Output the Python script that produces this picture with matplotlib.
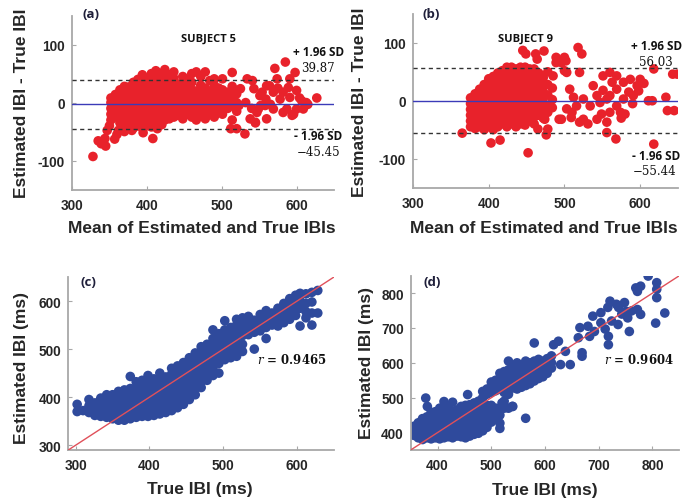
import matplotlib
matplotlib.use('Agg')
import matplotlib.pyplot as plt
import numpy as np

plt.rcParams['font.family'] = ['Liberation Sans', 'DejaVu Sans']
plt.rcParams['mathtext.fontset'] = 'dejavuserif'

# ---- (a) subject 5: Bland-Altman (mean of IBIs, difference) ----
# columns of points: (mean, [differences])
a_cols = [
    (352, [-30, -20, -10, 0, 8]),
    (358, [-25, -15, -5, 5, 14]),
    (364, [-35, -25, -15, -5, 5, 15, 22]),
    (370, [-40, -30, -20, -10, 0, 10, 20, 28]),
    (376, [-42, -32, -22, -12, -2, 8, 18, 27]),
    (382, [-44, -35, -25, -15, -5, 5, 15, 25, 35]),
    (388, [-40, -30, -20, -10, 0, 10, 20, 30, 40]),
    (394, [-44, -35, -25, -15, -5, 5, 15, 25, 35, 48]),
    (400, [-40, -30, -20, -10, 0, 10, 20, 30, 42]),
    (406, [-42, -32, -22, -12, -2, 8, 18, 28, 38, 50]),
    (412, [-38, -28, -18, -8, 2, 12, 22, 32, 45, 55]),
    (418, [-35, -25, -15, -5, 5, 15, 25, 38, 50]),
    (424, [-30, -20, -10, 0, 10, 20, 30, 42, 57]),
    (430, [-28, -18, -8, 2, 12, 22, 35, 48]),
    (436, [-25, -15, -5, 5, 15, 28, 42, 53]),
    (442, [-22, -12, -2, 8, 20, 32]),
    (448, [-28, -15, -5, 5, 18, 30, 45]),
    (454, [-20, -8, 2, 12, 25, 40]),
    (460, [-25, -10, 0, 10, 22, 35, 50]),
    (466, [-30, -15, -2, 8, 20, 53]),
    (472, [-20, -5, 5, 15, 30, 45]),
    (478, [-28, -12, 0, 10, 25, 53]),
    (484, [-20, -5, 8, 20, 38]),
    (490, [-25, -10, 2, 15, 30, 41]),
    (496, [-15, 0, 12, 25]),
    (501, [-20, -5, 10, 22, 41]),
    (508, [-10, 5, 18]),
    (514, [-30, -5, 10, 28, 52]),
    (520, [-15, 0, 15]),
]
a_extra = [(328, -93), (335, -66), (339, -71), (345, -75), (344, -62), (347, -48),
           (350, -40), (357, -63), (360, -55), (362, -48), (370, -50), (380, -48),
           (395, -52), (408, -62), (414, -45), (420, -38), (512, -45), (531, -54),
           (525, 24), (534, 41), (543, 24), (551, 12), (560, 29), (569, 18),
           (558, -5), (547, -17), (538, -28), (560, -28), (569, -11), (578, 6),
           (582, 18), (571, 59), (585, 70), (574, 41), (591, 41), (598, 52),
           (589, 26), (600, 21), (591, 9), (587, -11), (600, -11), (607, 3),
           (613, 0), (627, 8), (609, -11), (596, -20), (582, -17), (532, 0),
           (540, -10), (545, -35), (520, -45), (552, -5), (565, -3), (575, 25),
           (594, -22), (604, 8), (615, -3), (541, 38), (549, -11), (545, -34),
           (559, 6), (564, 29), (554, 18), (514, 18), (523, -5)]
a_upper, a_lower, a_bias = 39.87, -45.45, -2.79

# ---- (b) subject 9 ----
b_cols = [
    (376, [-45, -35, -25, -15, -5, 5]),
    (382, [-48, -38, -28, -18, -8, 2, 12]),
    (388, [-45, -35, -25, -15, -5, 5, 15, 20]),
    (394, [-50, -40, -30, -20, -10, 0, 10, 20, 28]),
    (400, [-45, -35, -25, -15, -5, 5, 15, 25, 38]),
    (406, [-50, -40, -30, -20, -10, 0, 10, 20, 30, 42]),
    (412, [-45, -35, -25, -15, -5, 5, 15, 25, 35, 48]),
    (418, [-40, -30, -20, -10, 0, 10, 20, 30, 40, 52]),
    (424, [-45, -35, -25, -15, -5, 5, 15, 25, 35, 45, 58]),
    (430, [-40, -30, -20, -10, 0, 10, 20, 30, 40, 50, 58]),
    (436, [-45, -35, -25, -15, -5, 5, 15, 25, 35, 45, 55]),
    (442, [-40, -30, -20, -10, 0, 10, 20, 30, 40, 50, 58]),
    (448, [-42, -32, -22, -12, -2, 8, 18, 28, 38, 48, 58]),
    (454, [-35, -25, -15, -5, 5, 15, 25, 35, 45, 55]),
    (460, [-40, -28, -18, -8, 2, 12, 22, 32, 42, 55]),
    (466, [-25, -15, -5, 5, 15, 25, 35, 48]),
    (472, [-30, -15, -5, 5, 15, 25, 40]),
    (478, [-20, -8, 10, 28, 50]),
    (484, [-12, 2, 22]),
]
b_extra = [(365, -56), (403, -73), (415, -68), (452, -90), (445, 87), (449, 81),
           (462, 81), (473, 86), (464, 72), (489, 75), (465, -49), (478, -49),
           (476, -59), (493, -32), (485, 43), (489, 66), (500, 75), (502, 69),
           (500, 52), (480, -9), (474, -32), (496, 66), (518, 92), (523, 81),
           (520, 49), (503, 49), (507, 20), (503, -14), (496, -32), (509, -29),
           (525, -32), (531, -40), (543, -32), (534, -9), (543, 9), (538, 26),
           (551, 43), (560, 49), (569, 43), (578, 32), (587, 37), (596, 26),
           (585, 15), (578, 3), (569, -9), (560, -20), (556, -37), (549, -23),
           (574, -20), (580, -23), (560, 9), (551, 18), (569, 20), (556, -55),
           (568, -66), (611, 0), (616, 0), (634, 6), (636, -17), (645, -17),
           (618, 55), (643, 46), (649, 46), (618, -75), (516, -9), (563, 32),
           (591, 9), (598, 17), (525, 3), (512, 6), (547, -3), (556, 3),
           (590, -5), (600, 37), (605, 30), (575, -30), (520, -37), (510, -20)]
b_upper, b_lower, b_bias = 56.03, -55.44, 0.30

# ---- (c) subject 5: true vs estimated IBI (ms) ----
c_cols = [
    (302, [370, 385]),
    (310, [372]),
    (318, [368, 382, 395]),
    (326, [362, 375, 388]),
    (334, [360, 372, 385, 398]),
    (342, [358, 370, 382, 395, 405]),
    (350, [355, 368, 380, 392, 405]),
    (358, [352, 365, 378, 390, 402, 412]),
    (366, [352, 365, 378, 390, 402, 415]),
    (374, [355, 368, 380, 392, 405, 418, 443]),
    (382, [358, 370, 382, 395, 408, 420, 432]),
    (390, [360, 372, 385, 398, 410, 422, 435]),
    (398, [360, 372, 385, 398, 410, 422, 435, 445]),
    (406, [362, 375, 388, 400, 412, 425, 438]),
    (414, [365, 378, 390, 402, 415, 428, 440, 450]),
    (422, [368, 380, 392, 405, 418, 430, 442]),
    (430, [372, 385, 398, 410, 422, 435, 448, 460]),
    (438, [378, 390, 402, 415, 428, 440, 452, 465]),
    (446, [385, 398, 410, 422, 435, 448, 460, 472]),
    (454, [395, 408, 420, 432, 445, 458, 470, 482]),
    (462, [405, 418, 430, 442, 455, 468, 480, 492]),
    (470, [420, 432, 445, 458, 470, 482, 495, 505]),
    (478, [435, 448, 460, 472, 485, 498, 510]),
    (486, [445, 458, 472, 485, 498, 510, 522, 540]),
    (494, [450, 470, 482, 495, 508, 520, 532]),
    (502, [478, 490, 502, 515, 528, 540, 559]),
    (510, [482, 492, 505, 518, 530, 545]),
    (518, [485, 498, 512, 525, 538, 550, 562]),
    (526, [495, 510, 528, 540, 552, 565]),
    (534, [530, 542, 555, 568]),
    (542, [500, 535, 548, 560]),
    (550, [538, 550, 562, 572]),
    (558, [522, 545, 558, 570, 580]),
    (566, [550, 562, 575]),
    (574, [548, 560, 572, 585]),
    (582, [555, 568, 580, 595]),
    (590, [562, 575, 588, 605]),
    (598, [570, 582, 595, 612]),
    (604, [548, 585, 600, 616]),
    (612, [565, 578, 595, 615]),
    (620, [550, 575, 598, 618]),
    (628, [575, 622]),
]
c_r = 0.9465

# ---- (d) subject 9 ----
d_cols = [
    (356, [392, 405, 418]),
    (364, [385, 400, 415, 428]),
    (372, [380, 395, 410, 425, 440]),
    (380, [385, 400, 415, 430, 445]),
    (388, [382, 398, 412, 428, 442, 458]),
    (396, [385, 400, 415, 430, 445, 460]),
    (404, [382, 398, 412, 428, 442, 458, 470]),
    (412, [385, 400, 415, 430, 445, 460]),
    (420, [388, 402, 418, 432, 448, 462, 475]),
    (428, [385, 400, 415, 430, 445, 460]),
    (436, [390, 405, 420, 435, 450, 465]),
    (444, [388, 402, 418, 432, 448, 462, 475]),
    (452, [385, 400, 415, 430, 445, 460, 478]),
    (460, [390, 405, 420, 435, 450, 465, 480]),
    (468, [395, 410, 425, 440, 455, 470, 485]),
    (476, [398, 412, 428, 442, 458, 472, 490]),
    (484, [405, 420, 435, 450, 465, 480, 500, 518]),
    (492, [415, 430, 445, 460, 478, 510, 525]),
    (500, [430, 445, 460, 478, 515, 530, 545]),
    (508, [440, 455, 470, 520, 535, 550]),
    (516, [412, 427, 450, 465, 525, 540, 555, 570]),
    (524, [470, 490, 515, 530, 545, 560, 575]),
    (532, [470, 510, 530, 548, 562, 580, 605]),
    (540, [475, 528, 545, 560, 575, 590]),
    (548, [525, 540, 555, 570, 585, 600]),
    (556, [530, 545, 560, 575, 590]),
    (564, [535, 550, 565, 580, 595, 605]),
    (572, [540, 555, 570, 585, 600]),
    (580, [548, 560, 575, 590, 605]),
    (588, [555, 565, 580, 595, 610]),
    (596, [560, 575, 590, 605]),
    (604, [570, 580, 598, 612]),
    (612, [585, 600, 620]),
]
d_extra = [(378, 499), (381, 475), (412, 489), (428, 487), (456, 509), (564, 441),
           (520, 485), (539, 475), (580, 657), (616, 652), (625, 662), (629, 595),
           (638, 633), (647, 595), (669, 629), (669, 619), (665, 701), (662, 672),
           (680, 705), (689, 734), (704, 744), (721, 777), (733, 768), (748, 773),
           (751, 748), (736, 710), (718, 676), (718, 652), (757, 690), (754, 729),
           (772, 753), (778, 739), (769, 815), (778, 820), (772, 805), (792, 849),
           (808, 830), (808, 811), (808, 787), (823, 743), (806, 714), (704, 715),
           (683, 676), (692, 690), (712, 697), (724, 720), (743, 740), (761, 749),
           (737, 759), (717, 759)]
d_r = 0.9604


def expand(cols, extra=()):
    xs = [x for x, ys in cols for _ in ys] + [p[0] for p in extra]
    ys = [y for _, ys in cols for y in ys] + [p[1] for p in extra]
    return np.array(xs, float), np.array(ys, float)


RED = '#e8222b'
BLUE = '#2f4a9c'
GREY = '#a8a8a8'
TXT = '#262626'
W, H = 697, 502
MS = 48


def style(ax, xt, yt):
    for s in ('top', 'right'):
        ax.spines[s].set_visible(False)
    for s in ('left', 'bottom'):
        ax.spines[s].set_color(GREY)
        ax.spines[s].set_linewidth(1.3)
    ax.set_xticks(xt)
    ax.set_xticklabels([str(t) for t in xt], fontweight='bold')
    ax.set_yticks(yt)
    ax.set_yticklabels([str(t) for t in yt], fontweight='bold')
    ax.tick_params(direction='in', length=3, width=0.8, color=GREY,
                   labelsize=9.8, labelcolor=TXT)
    ax.tick_params(axis='x', pad=6)
    ax.tick_params(axis='y', pad=5)


def rect(l, t, r, b):
    return [l / W, 1 - b / H, (r - l) / W, (b - t) / H]


def ftext(px, py, s, **kw):
    fig.text(px / W, 1 - py / H, s, ha='center', va='center', **kw)


fig = plt.figure(figsize=(6.97, 5.02), dpi=100)
lbl_kw = dict(fontsize=12.5, color=TXT, fontweight='bold', va='center')

ba_panels = [
    (rect(72, 16.7, 334, 190.5), a_cols, a_extra, a_upper, a_lower, a_bias,
     (-0.191, 0.503), (0.496, -0.2175)),
    (rect(413, 15, 678, 188.5), b_cols, b_extra, b_upper, b_lower, b_bias,
     (-0.20, 0.496), (0.494, -0.229)),
]
for r, cols, extra, up, lo, bias, ylc, xlc in ba_panels:
    ax = fig.add_axes(r)
    x, y = expand(cols, extra)
    ax.scatter(x, y, s=MS, color=RED, edgecolors='none', zorder=2)
    ax.axhline(bias, color='#3b3bb8', lw=1.0, zorder=3)
    ax.axhline(up, color='#333333', lw=1.0, ls=(0, (3, 2.5)), zorder=3)
    ax.axhline(lo, color='#333333', lw=1.0, ls=(0, (3, 2.5)), zorder=3)
    ax.set_xlim(300, 650)
    ax.set_ylim(-150, 150)
    style(ax, [300, 400, 500, 600], [-100, 0, 100])
    ax.set_ylabel('Estimated IBI - True IBI', **lbl_kw)
    ax.set_xlabel('Mean of Estimated and True IBIs', **lbl_kw)
    ax.yaxis.set_label_coords(*ylc)
    ax.xaxis.set_label_coords(*xlc)

sc_panels = [
    (rect(68.3, 278, 334, 451), c_cols, (), (290, 650), [300, 400, 500, 600],
     (-0.176, 0.48), (0.496, -0.225)),
    (rect(410.7, 276.7, 679.3, 451), d_cols, d_extra, (350, 850),
     [400, 500, 600, 700, 800], (-0.166, 0.505), (0.5, -0.224)),
]
for r, cols, extra, lim, ticks, ylc, xlc in sc_panels:
    ax = fig.add_axes(r)
    x, y = expand(cols, extra)
    ax.scatter(x, y, s=MS, color=BLUE, edgecolors='none', zorder=2)
    ax.plot(lim, lim, color='#e0505a', lw=1.0, zorder=3)
    ax.set_xlim(*lim)
    ax.set_ylim(*lim)
    style(ax, ticks, ticks)
    ax.set_ylabel('Estimated IBI (ms)', **lbl_kw)
    ax.set_xlabel('True IBI (ms)', **lbl_kw)
    ax.yaxis.set_label_coords(*ylc)
    ax.xaxis.set_label_coords(*xlc)

# panel letters and annotations
lab_kw = dict(fontsize=9.5, color='#1f1f3a', family='Open Sans', weight='bold')
ftext(91, 15, '(a)', **lab_kw)
ftext(431, 15, '(b)', **lab_kw)
ftext(88, 283, '(c)', **lab_kw)
ftext(432, 283, '(d)', **lab_kw)

sub_kw = dict(fontsize=8, color='#111111', family='Open Sans', weight='bold')
ftext(208.5, 39, 'SUBJECT 5', **sub_kw)
ftext(526, 39, 'SUBJECT 9', **sub_kw)

sd_kw = dict(fontsize=8.5, color='#111111', family='Open Sans', weight='bold')
num_kw = dict(fontsize=8.5, color='#111111', family='DejaVu Serif', weight='normal')
ftext(319, 53, '+ 1.96 SD', **sd_kw)
ftext(318, 68, f'{a_upper:.2f}', **num_kw)
ftext(318, 137, '- 1.96 SD', **sd_kw)
ftext(319, 153, f'\u2212{-a_lower:.2f}', **num_kw)
ftext(657, 47, '+ 1.96 SD', **sd_kw)
ftext(656, 63, f'{b_upper:.2f}', **num_kw)
ftext(656, 157, '- 1.96 SD', **sd_kw)
ftext(655, 172, f'\u2212{-b_lower:.2f}', **num_kw)

r_kw = dict(fontsize=8.5, color='#111111', family='DejaVu Serif', weight='bold')
ftext(292, 360, f'$r$ = {c_r:.4f}', **r_kw)
ftext(639, 360, f'$r$ = {d_r:.4f}', **r_kw)

fig.savefig('out.png', dpi=100)
